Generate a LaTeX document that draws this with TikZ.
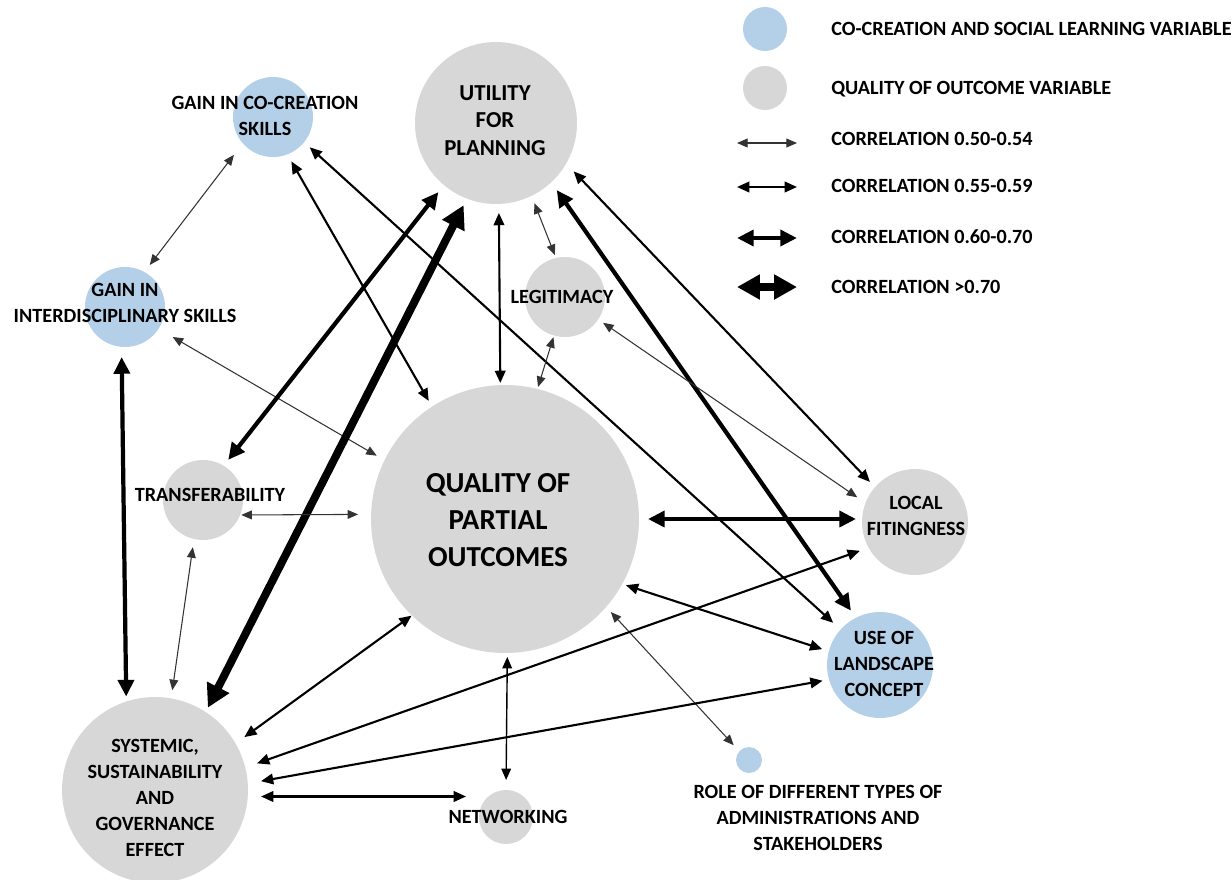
\documentclass[tikz,border=0pt]{standalone}
\usepackage{fontspec}
\setmainfont{Carlito}
\usetikzlibrary{arrows.meta}
\definecolor{cblue}{RGB}{180,208,233}
\definecolor{cgray}{RGB}{215,215,215}
\tikzset{
  var/.style={circle,inner sep=0pt,outer sep=0pt,minimum size=#1},
  bluev/.style={var=#1,fill=cblue},
  grayv/.style={var=#1,fill=cgray},
  txt/.style={font=\bfseries\fontsize{11.5}{14.8}\selectfont,align=center,inner sep=0pt,text=black},
  bigtxt/.style={txt,font=\bfseries\fontsize{13}{15.6}\selectfont},
  hugetxt/.style={txt,font=\bfseries\fontsize{16.5}{21}\selectfont},
  gp/.style 2 args={shorten <=#1*0.02cm, shorten >=#2*0.02cm},
  c1/.style={line width=0.6pt, draw=black!80, {Triangle[length=6pt,width=5pt]}-{Triangle[length=6pt,width=5pt]}},
  c1b/.style={line width=0.8pt, draw=black, {Triangle[length=6.5pt,width=5.5pt]}-{Triangle[length=6.5pt,width=5.5pt]}},
  c2/.style={line width=1.2pt, draw=black, {Triangle[length=7pt,width=6pt]}-{Triangle[length=7pt,width=6pt]}},
  c3/.style={line width=2.4pt, draw=black, {Triangle[length=9.5pt,width=9pt]}-{Triangle[length=9.5pt,width=9pt]}},
  c4/.style={line width=4.5pt, draw=black, {Triangle[length=13pt,width=13.5pt]}-{Triangle[length=13pt,width=13.5pt]}},
}
\begin{document}
\begin{tikzpicture}[x=0.02cm,y=-0.02cm]
\fill[white] (0,0) rectangle (1232,880);
\useasboundingbox (0,0) rectangle (1232,880);

% variables
\node[bluev=1.6cm] (coc) at (273,117) {};
\node[bluev=1.6cm] (int) at (125,307) {};
\node[grayv=3.24cm] (uti) at (496,123) {};
\node[grayv=1.6cm] (leg) at (565,297) {};
\node[grayv=5.36cm] (qua) at (505,519) {};
\node[grayv=1.6cm] (tra) at (203,500) {};
\node[grayv=2.12cm] (loc) at (915,522) {};
\node[bluev=2.12cm] (use) at (880,665) {};
\node[grayv=3.72cm] (sys) at (155,790) {};
\node[grayv=1.08cm] (net) at (506,817) {};
\node[bluev=0.52cm] (rol) at (749,760) {};

% correlations
\draw[c1,gp={14.6}{8.8}] (coc.221.3) -- (int.61.9);
\draw[c2,gp={8.1}{6.6}] (coc.-69.3) -- (qua.123.7);
\draw[c2,gp={7.6}{10}] (coc.-39) -- (use.138.2);
\draw[c1,gp={16.3}{9.1}] (int.-33.4) -- (qua.154.3);
\draw[c3,gp={10.2}{5}] (int.-95.7) -- (sys.108.4);
\draw[c3,gp={9}{7.5}] (uti.-130.9) -- (tra.59.7);
\draw[c4,gp={7.4}{4.9}] (uti.-111.9) -- (sys.57.9);
\draw[c2,gp={9}{2.1}] (uti.-88.1) -- (qua.92.1);
\draw[c1,gp={8}{3.2}] (uti.-64) -- (leg.103.4);
\draw[c3,gp={9.6}{8.7}] (uti.-47.7) -- (use.117);
\draw[c2,gp={10.9}{7.3}] (uti.-30.8) -- (loc.139.7);
\draw[c1,gp={1.8}{2.1}] (leg.-106.7) -- (qua.76);
\draw[c1,gp={6}{10}] (leg.-34.4) -- (loc.159.6);
\draw[c1,gp={1.2}{13}] (tra.-22.8) -- (qua.178.8);
\draw[c1,gp={8.3}{8.3}] (tra.-103.2) -- (sys.80.9);
\draw[c3,gp={9}{6}] (qua.-0.6) -- (qua.-0.6 -| loc.west);
\draw[c2,gp={3.9}{6.9}] (qua.-29.5) -- (use.165.5);
\draw[c1,gp={6.9}{8.3}] (qua.-41.8) -- (rol.138.8);
\draw[c2,gp={0.4}{10.9}] (qua.-134.4) -- (sys.30);
\draw[c1b,gp={4}{10}] (qua.-89.6) -- (net.90);
\draw[c2,gp={12.5}{9.3}] (sys.14.8) -- (loc.209.9);
\draw[c2,gp={13.4}{6.5}] (sys.4.9) -- (use.196.6);
\draw[c2,gp={13.3}{13}] (sys.-4.8) -- (sys.-4.8 -| net.west);

% labels
\node[txt] (coc-t) at (265,116) {GAIN IN CO-CREATION\\SKILLS};
\node[txt] (int-t) at (125,303) {GAIN IN\\INTERDISCIPLINARY SKILLS};
\node[bigtxt] (uti-t) at (495,120.5) {UTILITY\\FOR\\PLANNING};
\node[txt] (leg-t) at (562,297) {LEGITIMACY};
\node[hugetxt] (qua-t) at (498,520) {QUALITY OF\\PARTIAL\\OUTCOMES};
\node[txt] (tra-t) at (210,495) {TRANSFERABILITY};
\node[txt] (loc-t) at (916,515.5) {LOCAL\\FITINGNESS};
\node[txt] (use-t) at (884,664) {USE OF\\LANDSCAPE\\CONCEPT};
\node[txt] (sys-t) at (155,797.5) {SYSTEMIC,\\SUSTAINABILITY\\AND\\GOVERNANCE\\EFFECT};
\node[txt] (net-t) at (508,817) {NETWORKING};
\node[txt] (rol-t) at (818,818) {ROLE OF DIFFERENT TYPES OF\\ADMINISTRATIONS AND\\STAKEHOLDERS};

% legend
\node[bluev=0.88cm] (lgb) at (765,29) {};
\node[grayv=0.88cm] (lgg) at (765,88) {};
\coordinate (l1a) at (737,143); \coordinate (l1b) at (797,143);
\coordinate (l2a) at (737,187); \coordinate (l2b) at (797,187);
\coordinate (l3a) at (737,238); \coordinate (l3b) at (797,238);
\coordinate (l4a) at (737,287); \coordinate (l4b) at (797,287);
\draw[c1] (l1a) -- (l1b);
\draw[c2] (l2a) -- (l2b);
\draw[c3] (l3a) -- (l3b);
\draw[c4] (l4a) -- (l4b);
\node[txt,anchor=base west] (lt1) at (831,35.5) {CO-CREATION AND SOCIAL LEARNING VARIABLE};
\node[txt,anchor=base west] (lt2) at (831,94.5) {QUALITY OF OUTCOME VARIABLE};
\node[txt,anchor=base west] (lt3) at (831,145.5) {CORRELATION 0.50-0.54};
\node[txt,anchor=base west] (lt4) at (831,192.5) {CORRELATION 0.55-0.59};
\node[txt,anchor=base west] (lt5) at (831,243.5) {CORRELATION 0.60-0.70};
\node[txt,anchor=base west] (lt6) at (831,293.5) {CORRELATION >0.70};
\end{tikzpicture}
\end{document}
